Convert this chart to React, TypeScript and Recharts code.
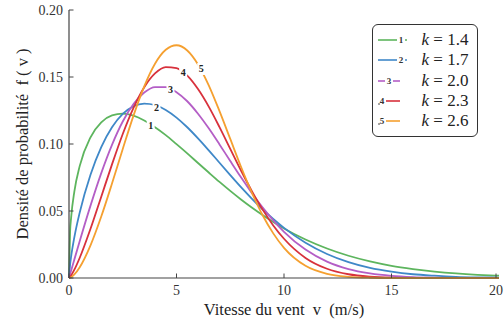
import { LineChart, Line, XAxis, YAxis, Legend, ReferenceDot } from "recharts";

// wind speed samples (m/s) and Weibull densities, one list per shape factor
const speeds = [0, 0.05, 0.1, 0.25, 0.5, 1, 1.5, 2, 2.5, 3, 3.5, 4, 4.5, 5, 5.5, 6, 6.5, 7, 7.5, 8, 8.5, 9, 9.5, 10, 11, 12, 13, 14, 15, 16, 17, 18, 19, 20];
const k14 = [0, 0.0344, 0.0452, 0.0647, 0.0837, 0.105, 0.1161, 0.1213, 0.1226, 0.1211, 0.1175, 0.1125, 0.1066, 0.0999, 0.093, 0.0858, 0.0787, 0.0717, 0.065, 0.0586, 0.0526, 0.047, 0.0418, 0.037, 0.0287, 0.022, 0.0166, 0.0124, 0.0091, 0.0067, 0.0048, 0.0034, 0.0024, 0.0017];
const k17 = [0, 0.0099, 0.0161, 0.0305, 0.049, 0.0771, 0.0977, 0.1125, 0.1225, 0.1282, 0.1302, 0.1291, 0.1254, 0.1197, 0.1125, 0.1042, 0.0953, 0.086, 0.0768, 0.0678, 0.0593, 0.0513, 0.044, 0.0374, 0.0263, 0.0179, 0.0118, 0.0075, 0.0047, 0.0028, 0.0017, 0.0009, 0.0005, 0.0003];
const k20 = [0, 0.0028, 0.0056, 0.0139, 0.0276, 0.054, 0.0783, 0.0994, 0.1168, 0.1298, 0.1384, 0.1425, 0.1424, 0.1387, 0.1319, 0.1226, 0.1117, 0.0997, 0.0873, 0.0751, 0.0635, 0.0527, 0.043, 0.0345, 0.0212, 0.0122, 0.0066, 0.0034, 0.0016, 0.0007, 0.0003, 0.0001, 0, 0];
const k23 = [0, 0.0008, 0.0019, 0.0062, 0.0151, 0.0367, 0.0607, 0.0848, 0.1075, 0.127, 0.1424, 0.1527, 0.1574, 0.1567, 0.151, 0.141, 0.1279, 0.1126, 0.0964, 0.0802, 0.065, 0.0512, 0.0392, 0.0293, 0.015, 0.0069, 0.0028, 0.001, 0.0003, 0.0001, 0, 0, 0, 0];
const k26 = [0, 0.0002, 0.0006, 0.0027, 0.0081, 0.0244, 0.0459, 0.0705, 0.0963, 0.1212, 0.143, 0.1599, 0.1703, 0.1737, 0.1698, 0.1594, 0.1438, 0.1245, 0.1038, 0.083, 0.0638, 0.047, 0.0333, 0.0225, 0.0091, 0.0031, 0.0009, 0.0002, 0, 0, 0, 0, 0, 0];

const seriesKeys = ["k14", "k17", "k20", "k23", "k26"];
const seriesNames = ["1.4", "1.7", "2.0", "2.3", "2.6"];
const seriesColors = ["#5db55e", "#3f88c8", "#b45ec6", "#d8313c", "#f5a030"];

const xTicks = [0, 5, 10, 15, 20];
const yTicks = [0, 0.05, 0.1, 0.15, 0.2];

// the little numbers sitting in gaps along each curve
const tagNumbers = ["1", "2", "3", "4", "5"];
const tagSpeeds = [3.8, 4.07, 4.72, 5.31, 6.15];
const tagDensities = [0.114, 0.127, 0.1405, 0.153, 0.156];

const FONT = "'Liberation Serif', 'DejaVu Serif', serif";
const AXIS = "#444";
const TEXT = "#333";

const rows = speeds.map((v, i) => ({
  v,
  k14: k14[i],
  k17: k17[i],
  k20: k20[i],
  k23: k23[i],
  k26: k26[i],
}));

const BottomTick = ({ x, y, payload }: any) => (
  <g>
    <line x1={x} x2={x} y1={y} y2={y - 4.5} stroke={AXIS} strokeWidth={1} />
    <text x={x} y={y + 17} textAnchor="middle" fontFamily={FONT} fontSize={14} fill={TEXT}>
      {payload.value}
    </text>
  </g>
);

const LeftTick = ({ x, y, payload }: any) => (
  <g>
    <line x1={x} x2={x + 4.5} y1={y} y2={y} stroke={AXIS} strokeWidth={1} />
    <text x={x - 6} y={y + 5} textAnchor="end" fontFamily={FONT} fontSize={14} fill={TEXT}>
      {Number(payload.value).toFixed(2)}
    </text>
  </g>
);

const TopTick = ({ x, y }: any) => (
  <line x1={x} x2={x} y1={y} y2={y + 4.5} stroke={AXIS} strokeWidth={1} />
);

const RightTick = ({ x, y }: any) => (
  <line x1={x} x2={x - 4.5} y1={y} y2={y} stroke={AXIS} strokeWidth={1} />
);

function CurveTag({ cx, cy, n }: any) {
  if (cx == null || cy == null) return null;
  return (
    <g>
      <rect x={cx - 4} y={cy - 6} width={8} height={12} fill="#fff" />
      <text x={cx} y={cy + 3.5} textAnchor="middle" fontFamily={FONT} fontSize={10} fontWeight="bold" fill="#222">
        {n}
      </text>
    </g>
  );
}

// legend marker: short line with the curve number, like the figure
function Marker({ i, color }: { i: number; color: string }) {
  const n = tagNumbers[i];
  const txt = (x: number) => (
    <text x={x} y={9} textAnchor="middle" fontFamily={FONT} fontSize={9} fontWeight="bold" fill="#333">
      {n}
    </text>
  );
  if (i < 2) {
    return (
      <svg width={36} height={12}>
        <line x1={0} x2={19} y1={6} y2={6} stroke={color} strokeWidth={1.6} />
        {txt(23)}
        <line x1={27} x2={29} y1={6} y2={6} stroke={color} strokeWidth={1.6} />
      </svg>
    );
  }
  if (i === 2) {
    return (
      <svg width={36} height={12}>
        <line x1={0} x2={7} y1={6} y2={6} stroke={color} strokeWidth={1.6} />
        {txt(11)}
        <line x1={15} x2={22} y1={6} y2={6} stroke={color} strokeWidth={1.6} />
      </svg>
    );
  }
  return (
    <svg width={36} height={12}>
      <circle cx={1} cy={9} r={0.8} fill="#333" />
      {txt(4)}
      <line x1={8} x2={22} y1={6} y2={6} stroke={color} strokeWidth={1.6} />
    </svg>
  );
}

function LegendBox({ payload }: any) {
  return (
    <div
      style={{
        boxSizing: "border-box",
        width: 106,
        height: 113,
        border: "1.5px solid #333",
        borderRadius: 6,
        background: "#fff",
        padding: "5px 0 0 4.5px",
        fontFamily: FONT,
        color: "#222",
      }}
    >
      {(payload || []).map((entry: any, i: number) => (
        <div key={i} style={{ display: "flex", alignItems: "center", height: 20.3 }}>
          <Marker i={i} color={entry.color} />
          <span style={{ marginLeft: 8, fontSize: 17, whiteSpace: "pre" }}>
            <i>k</i> = {seriesNames[i]}
          </span>
        </div>
      ))}
    </div>
  );
}

export default function App() {
  return (
    <div style={{ position: "absolute", left: 0, top: 0, background: "#fff" }}>
      <LineChart width={504} height={325} data={rows} margin={{ top: 10, right: 5, bottom: 0, left: 0 }}>
        <XAxis
          xAxisId="bottom"
          dataKey="v"
          type="number"
          domain={[0, 20]}
          ticks={xTicks}
          height={47}
          tickSize={0}
          tickMargin={0}
          tickLine={false}
          axisLine={{ stroke: AXIS, strokeWidth: 1.2 }}
          tick={BottomTick}
          label={{
            value: "Vitesse du vent\u00a0\u00a0v\u00a0\u00a0(m/s)",
            position: "insideBottom",
            offset: 10,
            style: { fontFamily: FONT, fontSize: 16.5, fill: "#222" },
          }}
        />
        <XAxis
          xAxisId="top"
          orientation="top"
          dataKey="v"
          type="number"
          domain={[0, 20]}
          ticks={xTicks}
          height={0}
          tickSize={0}
          tickMargin={0}
          tickLine={false}
          axisLine={{ stroke: AXIS, strokeWidth: 1.2 }}
          tick={TopTick}
        />
        <YAxis
          yAxisId="left"
          type="number"
          domain={[0, 0.2]}
          ticks={yTicks}
          width={69}
          tickSize={0}
          tickMargin={0}
          tickLine={false}
          axisLine={{ stroke: AXIS, strokeWidth: 1.2 }}
          tick={LeftTick}
          label={{
            value: "Densité de probabilité\u00a0\u00a0f\u00a0(\u00a0v\u00a0)",
            angle: -90,
            position: "insideLeft",
            offset: 22,
            style: { textAnchor: "middle", fontFamily: FONT, fontSize: 16.5, fill: "#222" },
          }}
        />
        <YAxis
          yAxisId="right"
          orientation="right"
          type="number"
          domain={[0, 0.2]}
          ticks={yTicks}
          width={0}
          tickSize={0}
          tickMargin={0}
          tickLine={false}
          axisLine={{ stroke: AXIS, strokeWidth: 1.2 }}
          tick={RightTick}
        />
        <Legend
          layout="vertical"
          align="center"
          verticalAlign="middle"
          content={LegendBox}
          wrapperStyle={{ left: 372, top: 24, width: 106, height: 113 }}
        />
        {seriesKeys.map((key, i) => (
          <Line
            key={key}
            xAxisId="bottom"
            yAxisId="left"
            type="monotone"
            dataKey={key}
            name={`k = ${seriesNames[i]}`}
            stroke={seriesColors[i]}
            strokeWidth={1.8}
            dot={false}
            activeDot={false}
            isAnimationActive={false}
          />
        ))}
        {tagNumbers.map((n, i) => (
          <ReferenceDot
            key={n}
            xAxisId="bottom"
            yAxisId="left"
            x={tagSpeeds[i]}
            y={tagDensities[i]}
            r={0}
            shape={(p: any) => <CurveTag cx={p.cx} cy={p.cy} n={n} />}
          />
        ))}
      </LineChart>
    </div>
  );
}
